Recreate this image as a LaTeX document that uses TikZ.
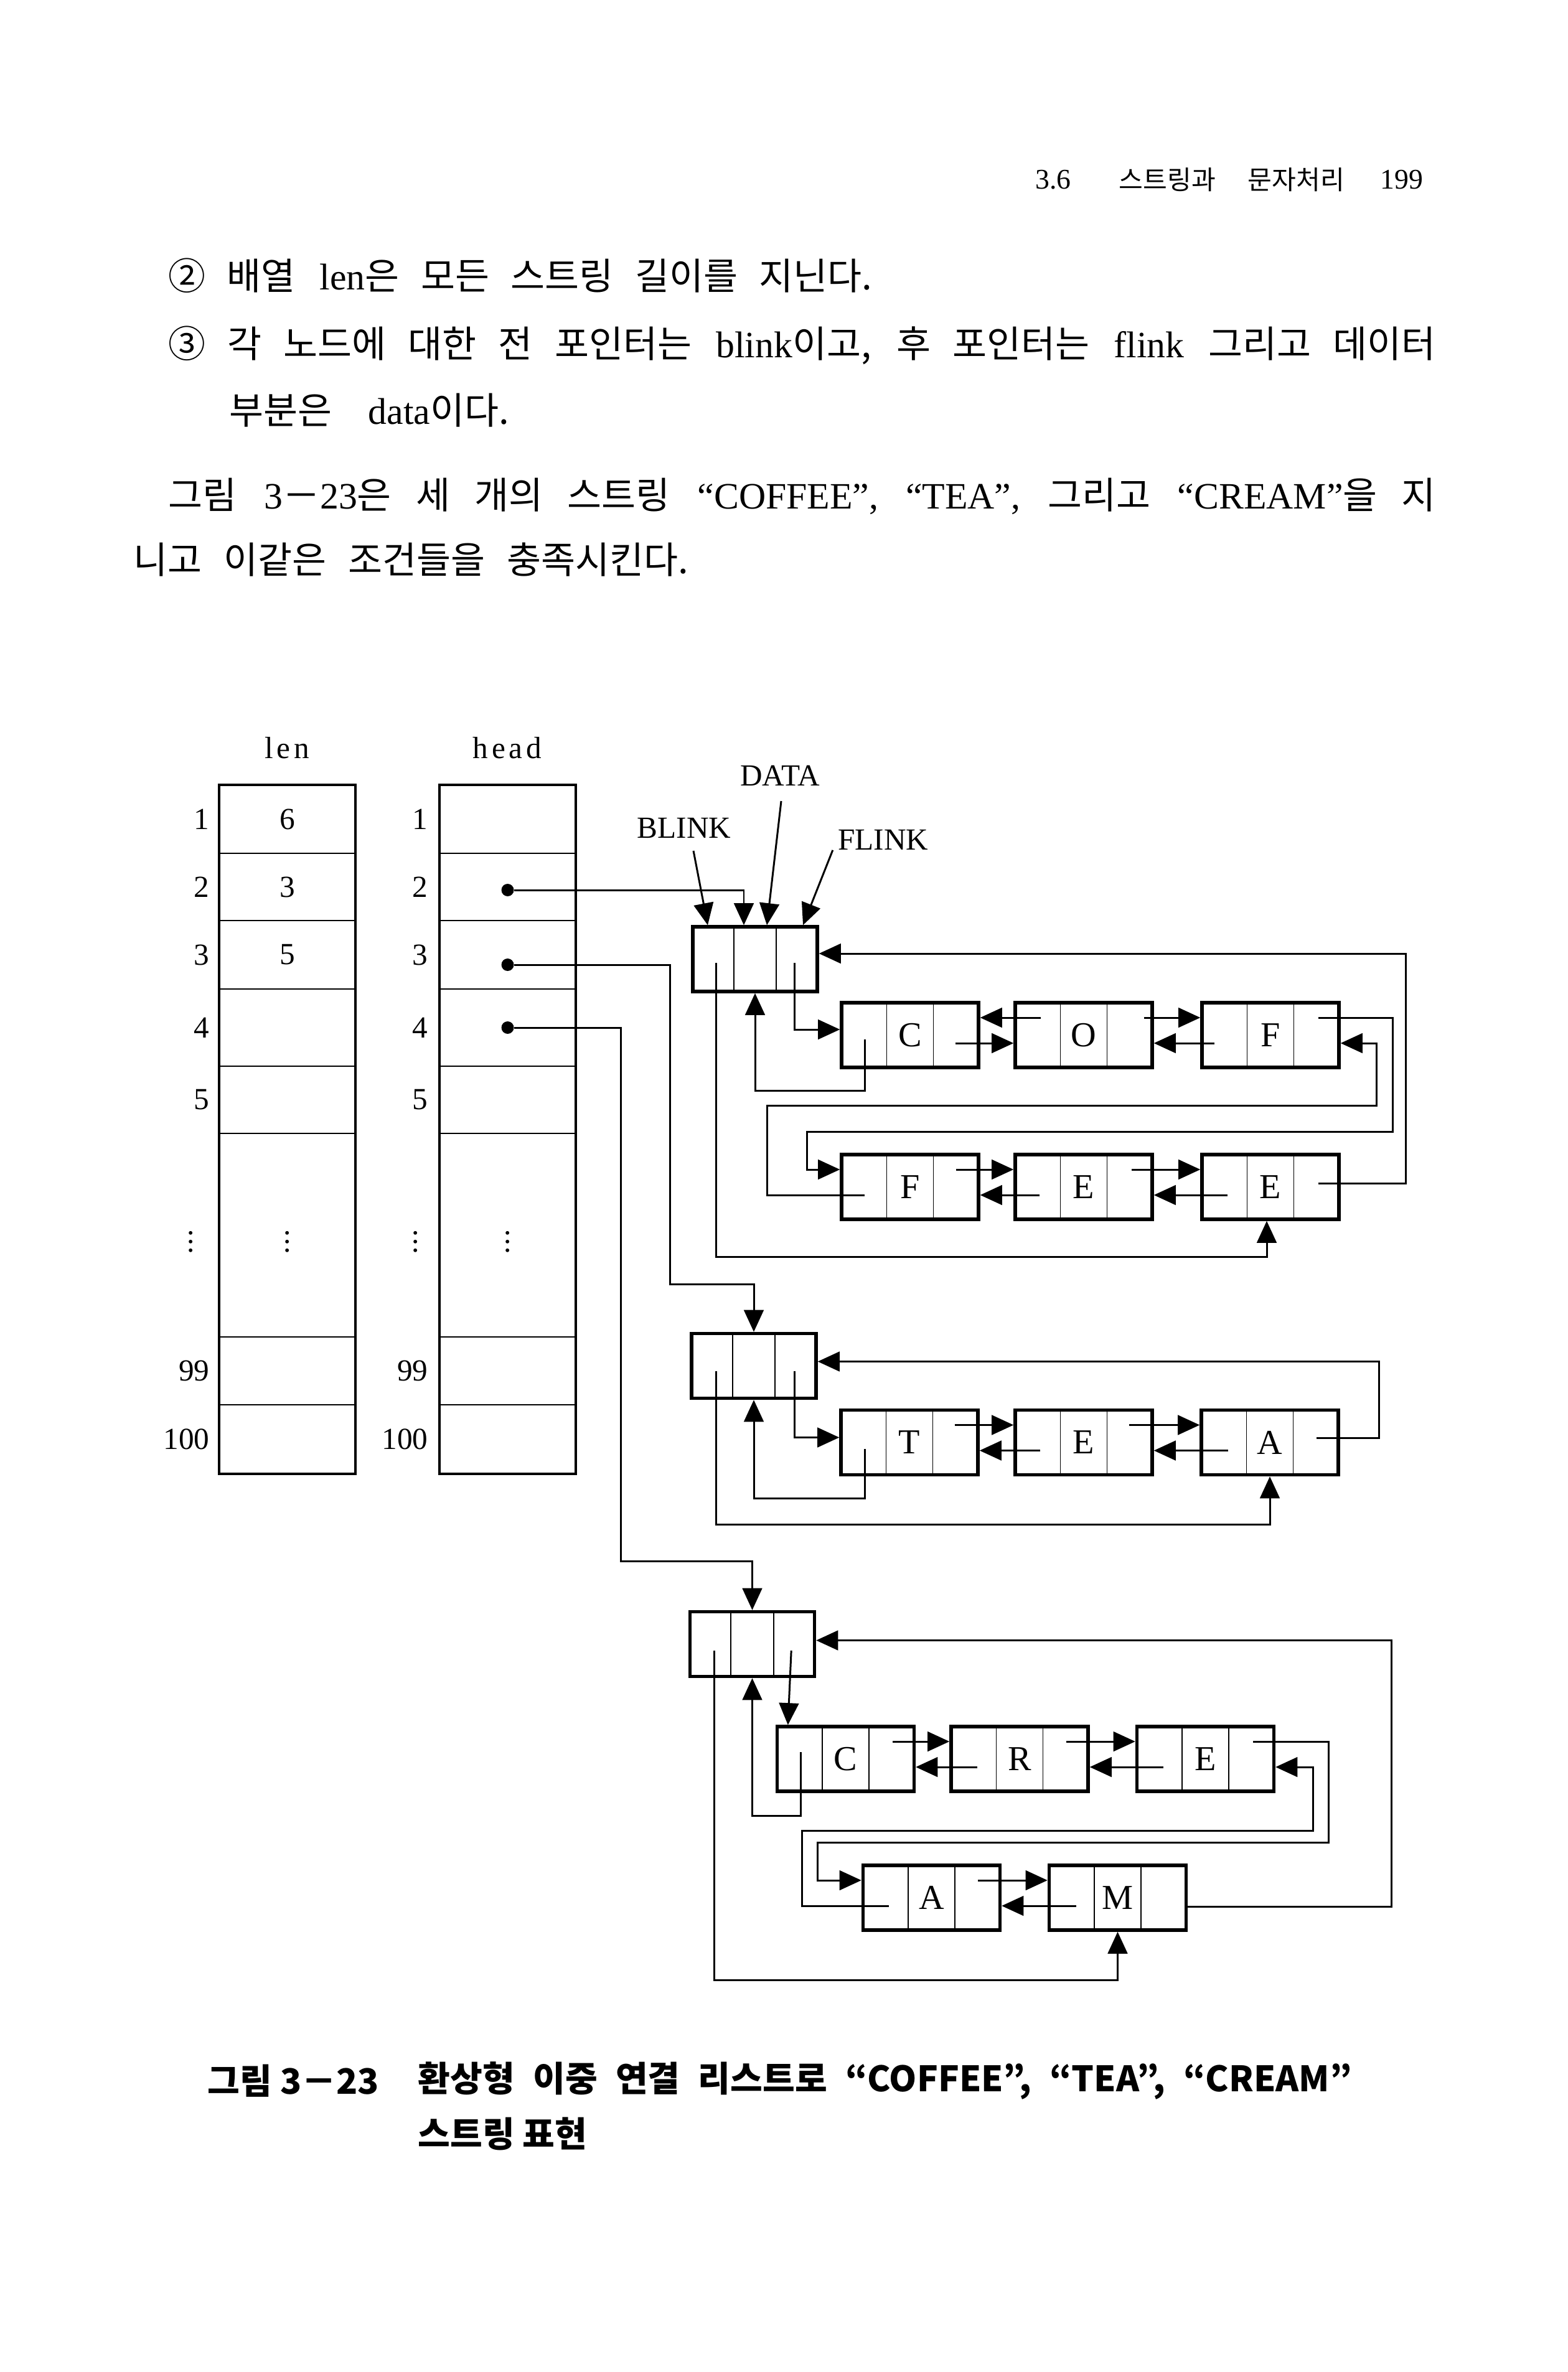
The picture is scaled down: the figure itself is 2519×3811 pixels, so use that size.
\documentclass[tikz,border=0pt]{standalone}
\usepackage{fontspec}
\setmainfont{Liberation Serif}
\newfontfamily\kr{Noto Sans CJK KR}
\usetikzlibrary{arrows.meta, calc}

\begin{document}
\begin{tikzpicture}[x=0.01cm, y=-0.01cm, >={Triangle[length=10pt,width=9pt]},
    box/.style={draw, line width=1.5pt, minimum width=2.2cm, minimum height=1.04cm, inner sep=0pt, font=\fontsize{16}{19}\selectfont},
    hdr/.style={box, minimum width=2cm},
    cell/.style={draw, line width=0.5pt, minimum width=2.17cm, inner sep=0pt, font=\fontsize{14}{16}\selectfont},
    idx/.style={inner sep=0pt, anchor=east, font=\fontsize{14}{16}\selectfont},
    lbl/.style={inner sep=0pt, font=\fontsize{14}{16}\selectfont},
    link/.style={line width=0.85pt, ->},
    ptr/.style={circle, fill, inner sep=0pt, minimum size=0.2cm},
    yhi/.style={yshift=2.8mm}, ylo/.style={yshift=-1.3mm},
    body/.style={inner sep=0pt, anchor=west, font=\fontsize{17}{20}\selectfont},
    capt/.style={inner sep=0pt, anchor=west, font=\fontsize{16}{19}\selectfont\kr\bfseries}]
    \fill[white] (0,0) rectangle (2519,3811);

    % page head and text
    \node[lbl, font=\fontsize{13}{15}\selectfont] (sec) at (1692,289) {3.6};
    \node[lbl, anchor=west, font=\fontsize{12}{14}\selectfont] (sectitle) at (1797,289) {\makebox[3.62cm][s]{\kr 스트링과 문자처리}};
    \node[lbl, font=\fontsize{13}{15}\selectfont] (pageno) at (2252,289) {199};

    \node[body] (l1) at (270,443) {\makebox[11.3cm][s]{{\kr ② 배열} len{\kr 은 모든 스트링 길이를 지닌다.}}};
    \node[body] (l2) at (270,555) {\makebox[20.35cm][s]{{\kr ③ 각 노드에 대한 전 포인터는} blink{\kr 이고, 후 포인터는} flink {\kr 그리고 데이터}}};
    \node[body] (l3) at (368,659) {\makebox[4.49cm][s]{{\kr 부분은} data{\kr 이다.}}};
    \node[body] (l4) at (270,797) {\makebox[20.35cm][s]{{\kr 그림} 3{\kr －}23{\kr 은 세 개의 스트링} “COFFEE”, “TEA”, {\kr 그리고} “CREAM”{\kr 을 지}}};
    \node[body] (l5) at (214,899) {\makebox[8.91cm][s]{\kr 니고 이같은 조건들을 충족시킨다.}};

    % len and head arrays
    \node[lbl, font=\fontsize{14}{16}\selectfont\addfontfeature{LetterSpace=12}] (lentitle) at (461,1202) {len};
    \node[lbl, font=\fontsize{14}{16}\selectfont\addfontfeature{LetterSpace=12}] (headtitle) at (815,1202) {head};
    \foreach \n/\y/\h/\v/\w in {1/1316.5/10.9/6/{}, 2/1425/10.8/3/{}, 3/1534/11/5/{}, 4/1651/12.4/{}/{}, 5/1767/10.8/{}/{},
        6/1984.5/32.7/{$\vdots$}/{$\vdots$}, 99/2202.5/10.9/{}/{}, 100/2312/11/{}/{}} {
        \node[cell, minimum height=\h mm] (len\n) at (461.5,\y) {\v};
        \node[cell, minimum height=\h mm] (head\n) at (815.5,\y) {\w};
    }
    \draw[line width=1.3pt] (len1.north west) rectangle (len100.south east);
    \draw[line width=1.3pt] (head1.north west) rectangle (head100.south east);
    \foreach \n in {1,2,3,4,5,99,100} {
        \node[idx] (li\n) at ([xshift=-1.5mm]len\n.west) {\n};
        \node[idx] (hi\n) at ([xshift=-1.8mm]head\n.west) {\n};
    }
    \node[lbl] (lendots) at (307,1985) {$\vdots$};
    \node[lbl] (headdots) at (668,1985) {$\vdots$};
    \node[ptr] (d2) at ([yshift=-.5mm]head2.center) {};
    \node[ptr] (d3) at ([yshift=-1.6mm]head3.center) {};
    \node[ptr] (d4) at (head4.center) {};

    % COFFEE
    \node[hdr] (H1) at (1213,1541) {};
    \node[box] (C1) at (1462,1663) {C};
    \node[box] (O1) at (1741,1663) {O};
    \node[box] (F1) at (2041,1663) {F};
    \node[box] (F2) at (1462,1907) {F};
    \node[box] (E1) at (1741,1907) {E};
    \node[box] (E2) at (2041,1907) {E};
    % TEA
    \node[hdr] (H2) at (1211,2194.5) {};
    \node[box] (T2) at (1461,2317.5) {T};
    \node[box] (E3) at (1741,2317.5) {E};
    \node[box] (A2) at (2040,2317.5) {A};
    % CREAM
    \node[hdr] (H3) at (1208.5,2641.5) {};
    \node[box] (C3) at (1358.5,2826) {C};
    \node[box] (R3) at (1638,2826) {R};
    \node[box] (E4) at (1936.5,2826) {E};
    \node[box] (A3) at (1496.5,3049) {A};
    \node[box] (M3) at (1795.5,3049) {M};

    \foreach \n in {H1,C1,O1,F1,F2,E1,E2,H2,T2,E3,A2,H3,C3,R3,E4,A3,M3} {
        \draw[line width=0.5pt] ($(\n.north west)!1/3!(\n.north east)$) -- ($(\n.south west)!1/3!(\n.south east)$)
            ($(\n.north west)!2/3!(\n.north east)$) -- ($(\n.south west)!2/3!(\n.south east)$);
    }

    % field names
    \node[lbl] (blink) at (1099,1330) {BLINK};
    \node[lbl] (data) at (1253,1246) {DATA};
    \node[lbl] (flink) at (1419,1349) {FLINK};
    \draw[link] ([xshift=1.5mm,yshift=-2mm]blink.south) -- ([xshift=-7.6mm]H1.north);
    \draw[link] ([xshift=.2mm,yshift=-2.4mm]data.south) -- ([xshift=1.9mm]H1.north);
    \draw[link] ([xshift=-.8mm]flink.south west) -- ([xshift=7.7mm]H1.north);

    % COFFEE links
    \draw[link] (d2) -| ([xshift=-1.8mm]H1.north);
    \draw[link] ([xshift=-3.9mm,yshift=-6.1mm]H1.north east) |- ([yshift=.9mm]C1.west);
    \draw[link] ([xshift=4mm,yshift=-6.2mm]C1.north west) -- ++(0,82) -| (H1.south);
    \draw[link] ([xshift=4mm,yshift=-6.1mm]H1.north west) -- ++(0,472) -| ([xshift=-.6mm]E2.south);
    \draw[link] ([xshift=-3.6mm,yshift=.6mm]E2.east) -- ++(141,0) |- ([yshift=.9mm]H1.east);
    \draw[link] ([xshift=4.4mm,yhi]O1.west) -- ([yhi]C1.east);
    \draw[link] ([xshift=-4mm,ylo]C1.east) -- ([ylo]O1.west);
    \draw[link] ([xshift=-1.6mm,yhi]O1.east) -- ([yhi]F1.west);
    \draw[link] ([xshift=2.3mm,ylo]F1.west) -- ([ylo]O1.east);
    \draw[link] ([xshift=-3.6mm,yhi]F1.east) -- ++(120,0) -- ++(0,183) -- ++(-941,0) |- ([yhi]F2.west);
    \draw[link] ([xshift=4mm,ylo]F2.west) -- ++(-157,0) -- ++(0,-144) -- ++(979,0) |- ([ylo]F1.east);
    \draw[link] ([xshift=-3.9mm,yhi]F2.east) -- ([yhi]E1.west);
    \draw[link] ([xshift=4.2mm,ylo]E1.west) -- ([ylo]F2.east);
    \draw[link] ([xshift=-3.6mm,yhi]E1.east) -- ([yhi]E2.west);
    \draw[link] ([xshift=4.4mm,ylo]E2.west) -- ([ylo]E1.east);

    % TEA links
    \draw[link] (d3) -- ++(261,0) -- ++(0,513) -| (H2.north);
    \draw[link] ([xshift=-3.7mm,yshift=-6.3mm]H2.north east) |- ([yshift=.8mm]T2.west);
    \draw[link] ([xshift=4.1mm,yshift=-6.5mm]T2.north west) -- ++(0,80) -| (H2.south);
    \draw[link] ([xshift=4.2mm,yshift=-6.3mm]H2.north west) -- ++(0,247) -| (A2.south);
    \draw[link] ([xshift=-3.8mm,yshift=.7mm]A2.east) -- ++(101,0) |- ([yshift=.7mm]H2.east);
    \draw[link] ([xshift=-4mm,yhi]T2.east) -- ([yhi]E3.west);
    \draw[link] ([xshift=4.3mm,ylo]E3.west) -- ([ylo]T2.east);
    \draw[link] ([xshift=-4mm,yhi]E3.east) -- ([yhi]A2.west);
    \draw[link] ([xshift=4.6mm,ylo]A2.west) -- ([ylo]E3.east);

    % CREAM links
    \draw[link] (d4) -- ++(182,0) -- ++(0,857) -| (H3.north);
    \draw[link] ([xshift=-4mm,yshift=-6.5mm]H3.north east) -- ([xshift=2mm]C3.north west);
    \draw[link] ([xshift=4.1mm,yshift=-4.4mm]C3.north west) -- ++(0,102) -| (H3.south);
    \draw[link] ([xshift=4.2mm,yshift=-6.5mm]H3.north west) -- ++(0,530) -| (M3.south);
    \draw[link] ([yshift=-1.4mm]M3.east) -- ++(327,0) |- ([yshift=.6mm]H3.east);
    \draw[link] ([xshift=-3.7mm,yhi]C3.east) -- ([yhi]R3.west);
    \draw[link] ([xshift=4.5mm,ylo]R3.west) -- ([ylo]C3.east);
    \draw[link] ([xshift=-3.8mm,yhi]R3.east) -- ([yhi]E4.west);
    \draw[link] ([xshift=4.5mm,ylo]E4.west) -- ([ylo]R3.east);
    \draw[link] ([xshift=-3.6mm,yhi]E4.east) -- ++(121,0) -- ++(0,162) -- ++(-821,0) |- ([yhi]A3.west);
    \draw[link] ([xshift=4.4mm,ylo]A3.west) -- ++(-139,0) -- ++(0,-121) -- ++(821,0) |- ([ylo]E4.east);
    \draw[link] ([xshift=-3.8mm,yhi]A3.east) -- ([yhi]M3.west);
    \draw[link] ([xshift=4.6mm,ylo]M3.west) -- ([ylo]A3.east);

    % caption
    \node[capt] (cap1) at (333,3343) {그림 3－23};
    \node[capt] (cap2) at (671,3343) {\makebox[14.99cm][s]{환상형 이중 연결 리스트로 “COFFEE”, “TEA”, “CREAM”}};
    \node[capt] (cap3) at (671,3428) {스트링 표현};
\end{tikzpicture}
\end{document}
